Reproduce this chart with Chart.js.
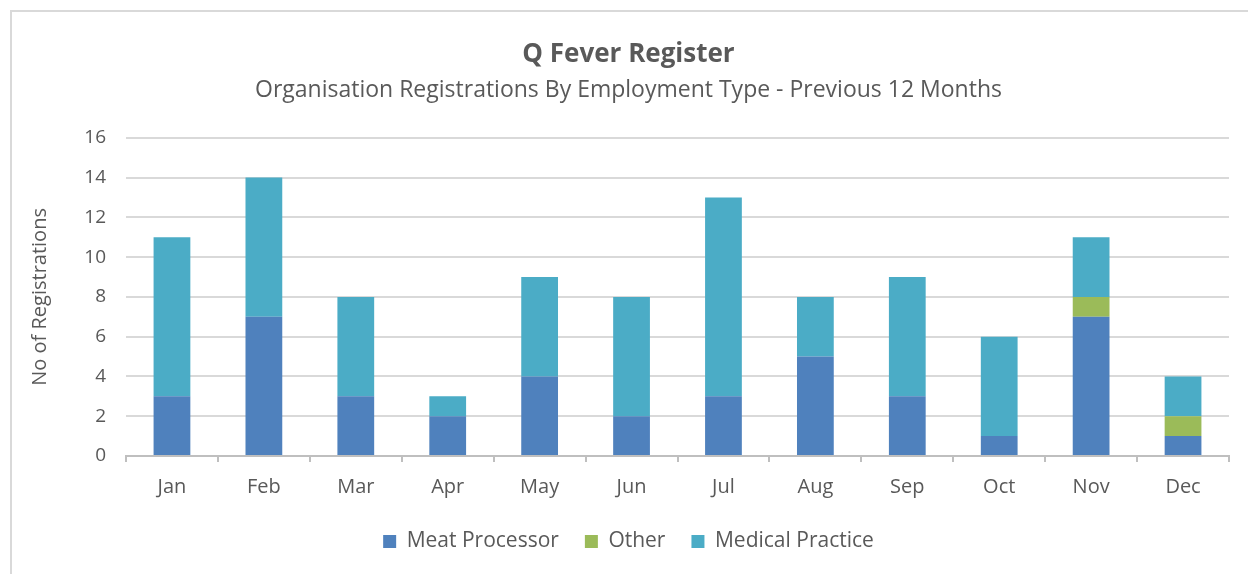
<!DOCTYPE html>
<html>
<head>
<meta charset="utf-8">
<script src="https://cdn.jsdelivr.net/npm/chart.js@4.4.0/dist/chart.umd.min.js"></script>
<style>
    html, body { margin: 0; padding: 0; background: #fff; }
    #wrap { position: relative; width: 1248px; height: 574px; overflow: hidden; }
    #frame {
        position: absolute; left: 10px; top: 10px; width: 1260px; height: 600px;
        border: 2px solid #D9D9D9; box-sizing: border-box;
    }
    #chart { position: absolute; left: 0; top: 0; }
</style>
</head>
<body>
<div id="wrap">
    <div id="frame"></div>
    <canvas id="chart" width="1248" height="574"></canvas>
</div>
<script>
    "use strict";

    // values
    var months = ['Jan', 'Feb', 'Mar', 'Apr', 'May', 'Jun', 'Jul', 'Aug', 'Sep', 'Oct', 'Nov', 'Dec'];
    var meatProcessor = [3, 7, 3, 2, 4, 2, 3, 5, 3, 1, 7, 1];
    var other = [0, 0, 0, 0, 0, 0, 0, 0, 0, 0, 1, 1];
    var medicalPractice = [8, 7, 5, 1, 5, 6, 10, 3, 6, 5, 3, 2];
    var yTicks = [0, 2, 4, 6, 8, 10, 12, 14, 16];

    var fontFamily = "'Open Sans', 'Noto Sans', sans-serif";
    var textColor = '#595959';

    var ctx = document.getElementById('chart').getContext('2d');

    new Chart(ctx, {
        type: 'bar',
        data: {
            labels: months,
            datasets: [
                { label: 'Meat Processor', data: meatProcessor, backgroundColor: '#4F81BD' },
                { label: 'Other', data: other, backgroundColor: '#9BBB59' },
                { label: 'Medical Practice', data: medicalPractice, backgroundColor: '#4BACC6' }
            ]
        },
        options: {
            responsive: false,
            animation: false,
            layout: { padding: { left: 28, right: 19, top: 39, bottom: 12 } },
            datasets: {
                bar: { categoryPercentage: 1, barPercentage: 0.4 }
            },
            plugins: {
                title: {
                    display: true,
                    text: 'Q Fever Register',
                    color: textColor,
                    font: { family: fontFamily, size: 26, weight: 'bold' },
                    padding: { top: 0, bottom: 6 }
                },
                subtitle: {
                    display: true,
                    text: 'Organisation Registrations By Employment Type - Previous 12 Months',
                    color: textColor,
                    font: { family: fontFamily, size: 23 },
                    padding: { top: 0, bottom: 34 }
                },
                legend: {
                    position: 'bottom',
                    labels: {
                        color: textColor,
                        font: { family: fontFamily, size: 21 },
                        boxWidth: 13,
                        boxHeight: 13,
                        padding: 26
                    }
                },
                tooltip: { enabled: false }
            },
            scales: {
                x: {
                    stacked: true,
                    afterFit: function (scale) { scale.height -= 7; },
                    grid: {
                        offset: true,
                        drawOnChartArea: false,
                        drawTicks: true,
                        tickLength: 6,
                        color: '#BFBFBF',
                        lineWidth: 2
                    },
                    border: { display: true, color: '#BFBFBF', width: 2 },
                    ticks: {
                        color: textColor,
                        font: { family: fontFamily, size: 20 },
                        padding: 13
                    }
                },
                y: {
                    stacked: true,
                    min: 0,
                    max: 16,
                    afterBuildTicks: function (scale) {
                        scale.ticks = yTicks.map(function (v) { return { value: v }; });
                    },
                    afterFit: function (scale) { scale.width = 98; },
                    grid: {
                        color: '#D9D9D9',
                        lineWidth: 2,
                        drawTicks: false
                    },
                    border: { display: false },
                    ticks: {
                        color: textColor,
                        font: { family: fontFamily, size: 19 },
                        padding: 20
                    },
                    title: {
                        display: true,
                        text: 'No of Registrations',
                        color: textColor,
                        font: { family: fontFamily, size: 20 },
                        padding: 0
                    }
                }
            }
        }
    });
</script>
</body>
</html>
